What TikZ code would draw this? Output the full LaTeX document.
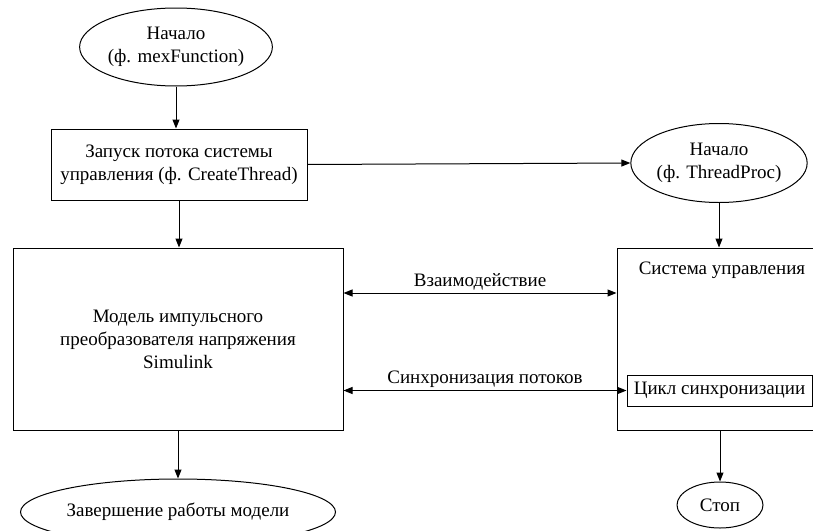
\documentclass[tikz,border=0pt]{standalone}
\usepackage{fontspec}
\setmainfont{Liberation Serif}
\usetikzlibrary{shapes.geometric,arrows.meta}
\begin{document}
\begin{tikzpicture}[x=1pt,y=-1pt,line width=1pt,
  every node/.style={font=\fontsize{19}{23}\selectfont, align=center, inner sep=0pt},
  oval/.style={draw, ellipse},
  blk/.style={draw, rectangle},
  link/.style={-{Triangle[length=9pt,width=7pt]}},
  both/.style={{Triangle[length=9pt,width=7pt]}-{Triangle[length=9pt,width=7pt]}}]
\useasboundingbox (0,0) rectangle (813,530);

% start of the main function
\node[oval, minimum width=178, minimum height=78] (start) at (176,47) {Начало\\(ф. mexFunction)};
% thread launch
\node[blk, minimum width=256, minimum height=71] (launch) at (179,164.5) {Запуск потока системы\\управления (ф. CreateThread)};
% converter model
\node[blk, minimum width=330, minimum height=182] (model) at (178,339) {Модель импульсного\\преобразователя напряжения\\Simulink};
% end of the model run
\node[oval, minimum width=290, minimum height=66] (finish) at (178,512) {Завершение работы модели};

% thread procedure start
\node[oval, minimum width=156, minimum height=79] (tp) at (719,163) {Начало\\(ф. ThreadProc)};
% control system block (runs past the right edge)
\node[blk, minimum width=203, minimum height=182] (ctrl) at (718.5,339) {};
\node (ctrltitle) at (722,270) {Система управления};
\node[blk, minimum width=185, minimum height=31] (cyc) at (719.5,390.5) {Цикл синхронизации};
\node[oval, minimum width=86, minimum height=46] (stop) at (720,505) {Стоп};

% control flow
\draw[link] (start) -- (start.south |- launch.north);
\draw[link] (launch.east) -- (tp.west);
\draw[link] (launch.south) -- (launch.south |- model.north);
\draw[link] (model.south) -- (model.south |- finish.north);
\draw[link] (tp.south) -- (tp.south |- ctrl.north);
\draw[link] (stop.north |- ctrl.south) -- (stop.north);

% interaction between the two threads
\path (model.east) ++(0,-46) coordinate (ia);
\draw[both] (ia) -- (ia -| ctrl.west) node[midway, above=2pt] {Взаимодействие};
\draw[both] (model.east |- cyc.west) -- (cyc.west) node[midway, above=2pt] {Синхронизация потоков};
\end{tikzpicture}
\end{document}
